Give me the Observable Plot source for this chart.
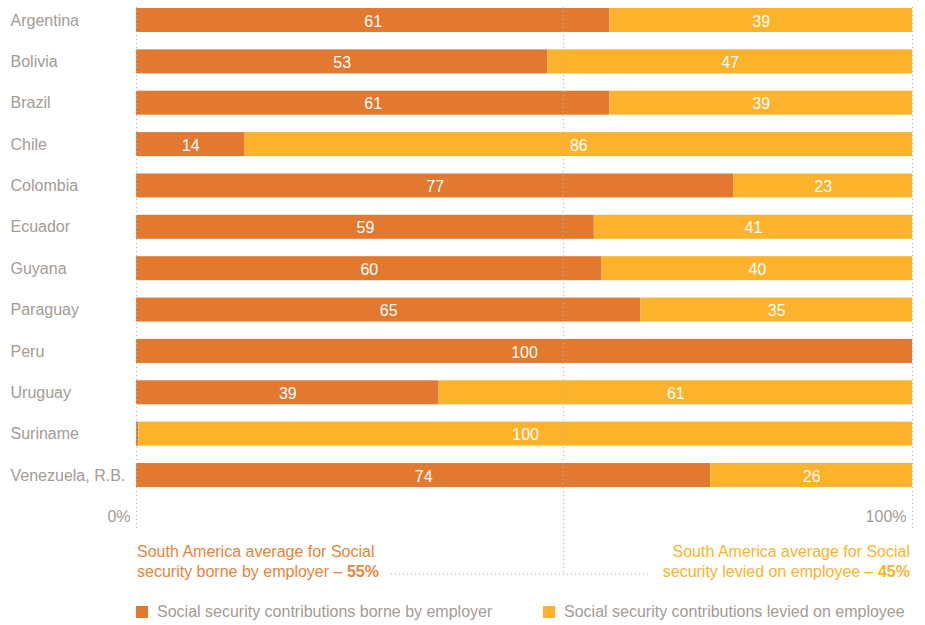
<!DOCTYPE html>
<html><head><meta charset="utf-8">
<script src="https://cdn.jsdelivr.net/npm/d3@7"></script>
<script src="https://cdn.jsdelivr.net/npm/@observablehq/plot@0.6"></script>
<style>
body{margin:0;background:#fff;font-family:"Liberation Sans",Arial,Helvetica,sans-serif;}
#chart svg{display:block;}
.legend{display:flex;height:27px;align-items:center;padding-left:136px;font-size:16px;color:#a39b95;}
.legend .item{display:flex;align-items:center;}
.legend .item:first-child{width:407px;}
.legend .sw{width:12px;height:12px;margin-right:9px;}
</style>
</head><body>
<div id="chart"></div>
<script>
const countries = ["Argentina","Bolivia","Brazil","Chile","Colombia","Ecuador","Guyana","Paraguay","Peru","Uruguay","Suriname","Venezuela, R.B."];
const employer = [61,53,61,14,77,59,60,65,100,39,0.3,74];
const employee = [39,47,39,86,23,41,40,35,0,61,99.7,26];
const seriesNames = ["Social security contributions borne by employer","Social security contributions levied on employee"];
const seriesColors = ["#E2792F","#FDB22B"];
const averages = [55,45];
const axisTicks = [0,100];
const axisLabels = ["0%","100%"];
const annotationLeft = ["South America average for Social","security borne by employer – "];
const annotationRight = ["South America average for Social","security levied on employee – "];

const rows = [];
countries.forEach((c,i)=>{
  rows.push({country:c, series:seriesNames[0], value:employer[i]});
  rows.push({country:c, series:seriesNames[1], value:employee[i]});
});

const gray = "#a39b95";
const dotted = {stroke:"#b3b3b3", strokeWidth:1, strokeDasharray:"1.2,2.8"};
const H = 598, MB = 70;

const plot = Plot.plot({
  width: 925, height: H,
  marginLeft: 136, marginRight: 13, marginTop: 7, marginBottom: MB,
  x: {domain:[0,100], axis:null},
  y: {domain: countries, range:[8,487], paddingInner:0.42, paddingOuter:0, round:false, axis:null},
  color: {domain: seriesNames, range: seriesColors},
  style: {fontFamily:'"Liberation Sans",Arial,Helvetica,sans-serif', fontSize:"16px", background:"#fff"},
  marks: [
    Plot.barX(rows, {x:"value", y:"country", fill:"series"}),
    Plot.ruleX(axisTicks, dotted),
    Plot.ruleX([averages[0]], {...dotted, insetBottom:-46}),
    Plot.text(rows, Plot.stackX({x:"value", y:"country", z:"series", text: d => d.value >= 1 ? String(Math.round(d.value)) : "", fill:"white", dy:1})),
    Plot.text(countries, {y: d=>d, text: d=>d, frameAnchor:"left", textAnchor:"start", dx:-126, fill:gray}),
    Plot.text(axisLabels, {x: axisTicks, text: d=>d, frameAnchor:"bottom", textAnchor:"end", dx:-6, dy:-7, fill:gray})
  ]
});
document.getElementById("chart").appendChild(plot);

const svg = d3.select(plot);
const xs = plot.scale("x");
const bottom = H - MB;
const fs = "16px";
function annot(lines, pct, xpos, anchor, color){
  const g = svg.append("g").attr("fill", color).attr("font-size", fs).attr("text-anchor", anchor);
  g.append("text").attr("x", xpos).attr("y", bottom + 29).text(lines[0]);
  const t2 = g.append("text").attr("x", xpos).attr("y", bottom + 49);
  t2.append("tspan").text(lines[1]);
  t2.append("tspan").attr("font-weight","bold").text(pct + "%");
  return t2.node().getBBox();
}
const bl = annot(annotationLeft, averages[0], xs.apply(0)+1, "start", "#E8843A");
const br = annot(annotationRight, averages[1], xs.apply(100)-2, "end", "#FDB22B");
svg.append("line")
  .attr("x1", bl.x + bl.width + 12).attr("x2", br.x - 15)
  .attr("y1", bottom + 46).attr("y2", bottom + 46)
  .attr("stroke", dotted.stroke).attr("stroke-dasharray", dotted.strokeDasharray);

const legend = d3.select("#chart").append("div").attr("class","legend");
seriesNames.forEach((s,i)=>{
  const it = legend.append("div").attr("class","item");
  it.append("div").attr("class","sw").style("background", seriesColors[i]);
  it.append("span").text(s);
});
</script>
</body></html>
